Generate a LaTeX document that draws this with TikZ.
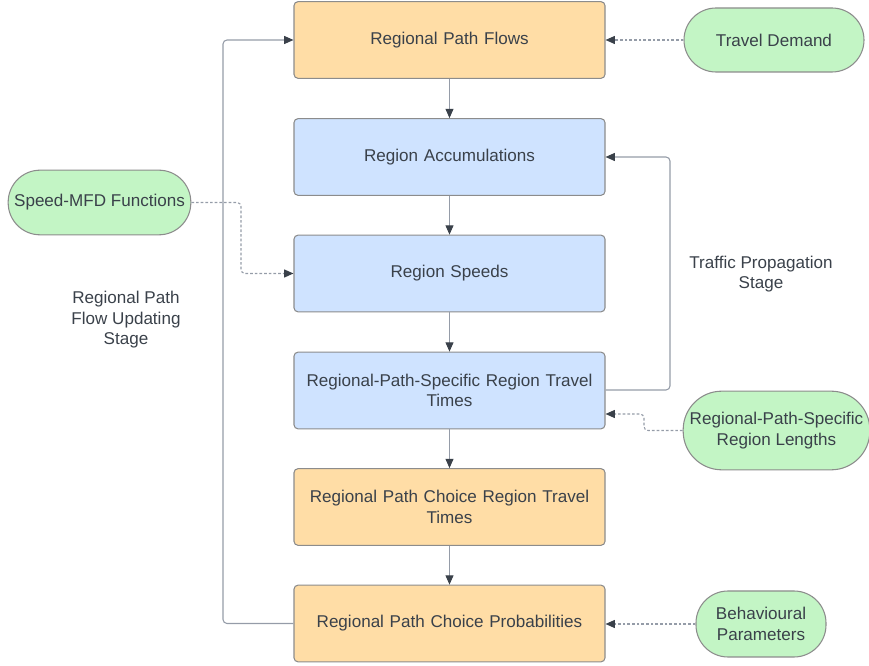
\documentclass[tikz,border=0pt]{standalone}
\usepackage{fontspec}
\setmainfont{Liberation Sans}
\usetikzlibrary{arrows.meta}
\definecolor{orangefill}{HTML}{FFDDA6}
\definecolor{bluefill}{HTML}{CFE3FF}
\definecolor{greenfill}{HTML}{C3F5C5}
\definecolor{borderc}{HTML}{8C8C8C}
\definecolor{textc}{HTML}{3A414A}
\definecolor{linec}{HTML}{959CA8}
\begin{document}
\begin{tikzpicture}[x=0.75pt,y=-0.75pt,
  font=\fontsize{12.8}{15.4}\selectfont, text=textc,
  mainbox/.style={draw=borderc, line width=0.8pt, rounded corners=3pt, minimum width=233.25pt, minimum height=57.5pt, align=center, inner sep=0pt, text width=225pt},
  obox/.style={mainbox, fill=orangefill},
  bbox/.style={mainbox, fill=bluefill},
  gbox/.style={draw=borderc, line width=0.8pt, fill=greenfill, rounded corners=24pt, align=center, inner sep=0pt},
  conn/.style={draw=linec, line width=0.8pt, rounded corners=3pt, -{Triangle[length=7pt,width=6pt,fill=textc,color=textc]}},
  dconn/.style={conn, dash pattern=on 2pt off 1.5pt},
  plain/.style={draw=linec, line width=0.8pt}
]
\useasboundingbox (0,0) rectangle (869,666);

\node[obox] (flows) at (449.5,40) {Regional Path Flows};
\node[bbox] (acc) at (449.5,157) {Region Accumulations};
\node[bbox] (spd) at (449.5,273.5) {Region Speeds};
\node[bbox] (rpstt) at (449.5,390.5) {Regional-Path-Specific Region Travel\\Times};
\node[obox] (rpctt) at (449.5,507) {Regional Path Choice Region Travel\\Times};
\node[obox] (prob) at (449.5,623.5) {Regional Path Choice Probabilities};

\node[gbox, minimum width=135pt, minimum height=48pt] (td) at (774,40) {Travel Demand};
\node[gbox, minimum width=137pt, minimum height=48.5pt] (mfd) at (99.5,202.5) {Speed-MFD Functions};
\node[gbox, rounded corners=29pt, minimum width=140pt, minimum height=59pt] (len) at (776.5,430.5) {Regional-Path-Specific\\Region Lengths};
\node[gbox, minimum width=97.5pt, minimum height=49.5pt] (beh) at (761,624) {Behavioural\\Parameters};

\node[align=center] (lupd) at (126,320) {Regional Path\\Flow Updating\\Stage};
\node[align=center] (lprop) at (761,274) {Traffic Propagation\\Stage};

\draw[conn] (flows) -- (acc);
\draw[conn] (acc) -- (spd);
\draw[conn] (spd) -- (rpstt);
\draw[conn] (rpstt) -- (rpctt);
\draw[conn] (rpctt) -- (prob);

\coordinate (lb) at (223,623.5);
\coordinate (lt) at (223,40);
\draw[conn] (prob.west) -- (lb) -- (lt) -- (flows.west);

\coordinate (rb) at (670,390);
\coordinate (rt) at (670,157);
\draw[conn] (rpstt.east |- rb) -- (rb) -- (rt) -- (acc.east);

\draw[dconn] (td.west) -- (flows.east);
\draw[dconn] (beh.west) -- (prob.east |- beh.west);

\coordinate (m1) at (241,202.5);
\coordinate (m2) at (241,273.5);
\draw[dconn] (mfd.east) -- (m1) -- (m2) -- (spd.west);

\coordinate (n1) at (644,430.5);
\coordinate (n2) at (644,414);
\draw[dconn] (len.west) -- (n1) -- (n2) -- (rpstt.east |- n2);
\end{tikzpicture}
\end{document}
